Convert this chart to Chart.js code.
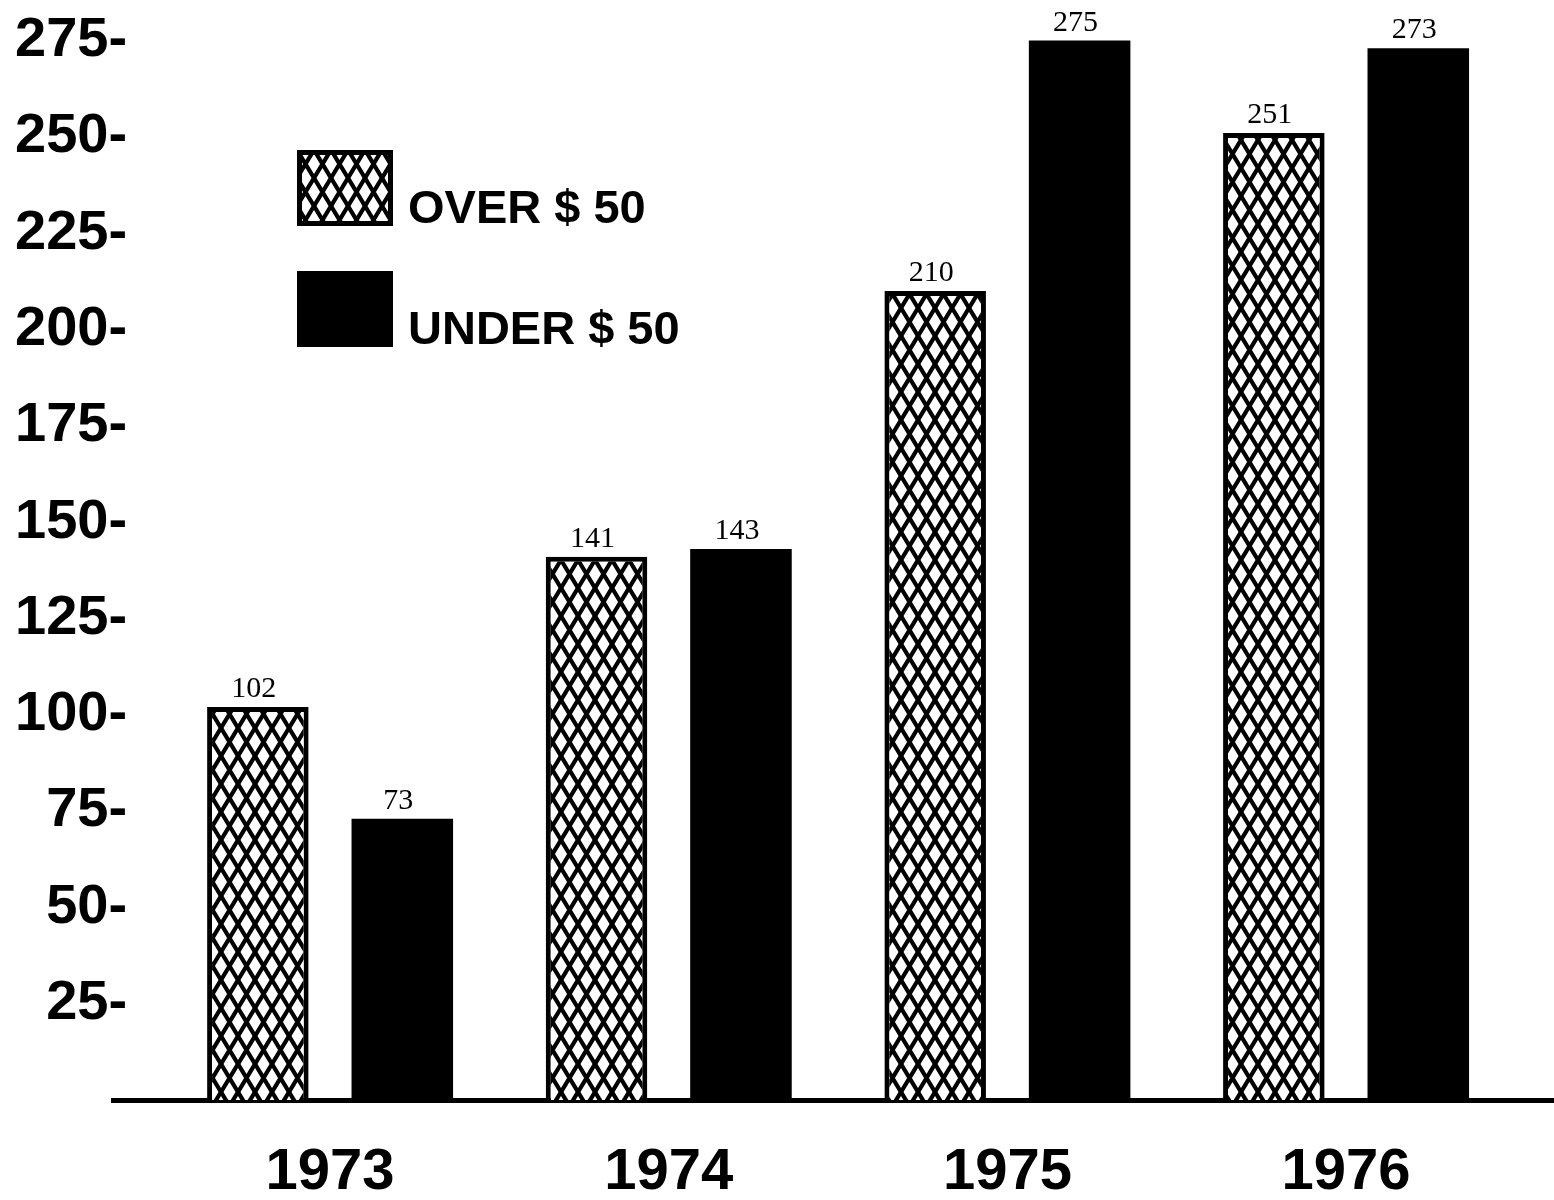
<!DOCTYPE html>
<html>
<head>
<meta charset="utf-8">
<script src="https://cdn.jsdelivr.net/npm/chart.js@4.4.1/dist/chart.umd.min.js"></script>
<style>
    body { margin: 0; background: #fff; }
    #wrap { position: relative; width: 1554px; height: 1200px; }
    #legend { position: absolute; left: 297px; top: 150px; }
    .item { display: flex; align-items: flex-end; margin-bottom: 45px; }
    .item canvas { display: block; }
    .item span { font: bold 47px "Liberation Sans", Arial, sans-serif; color: #000; margin-left: 15px; line-height: 1; margin-bottom: -4px; }
</style>
</head>
<body>
<div id="wrap">
    <canvas id="bars"></canvas>
    <div id="legend"></div>
</div>
<script>
const years = [1973, 1974, 1975, 1976];
const over50 = [102, 141, 210, 251];
const under50 = [73, 143, 275, 273];
const seriesNames = ["OVER $ 50", "UNDER $ 50"];
const yTicks = [25, 50, 75, 100, 125, 150, 175, 200, 225, 250, 275];

// crosshatch fill used for the "over" bars
function makeHatch() {
    const w = 17, h = 28;
    const c = document.createElement("canvas");
    c.width = w; c.height = h;
    const g = c.getContext("2d");
    g.fillStyle = "#fff";
    g.fillRect(0, 0, w, h);
    g.strokeStyle = "#000";
    g.lineWidth = 4.2;
    for (const dx of [-w, 0, w]) {
        for (const dy of [-h, 0, h]) {
            g.beginPath();
            g.moveTo(dx, dy); g.lineTo(dx + w, dy + h);
            g.moveTo(dx + w, dy); g.lineTo(dx, dy + h);
            g.stroke();
        }
    }
    return g.createPattern(c, "repeat");
}
const hatch = makeHatch();

const valueLabels = {
    id: "valueLabels",
    afterDatasetsDraw(chart) {
        const ctx = chart.ctx;
        ctx.save();
        ctx.font = '30px "Liberation Serif", serif';
        ctx.fillStyle = "#000";
        ctx.textAlign = "center";
        ctx.textBaseline = "alphabetic";
        chart.data.datasets.forEach((ds, i) => {
            chart.getDatasetMeta(i).data.forEach((bar, j) => {
                ctx.fillText(ds.data[j].y, bar.x - 4, bar.y - 10);
            });
        });
        ctx.restore();
    }
};

// legend built in html, placed over the plot
const htmlLegend = {
    id: "htmlLegend",
    afterUpdate(chart) {
        const box = document.getElementById("legend");
        box.innerHTML = "";
        chart.data.datasets.forEach(ds => {
            const item = document.createElement("div");
            item.className = "item";
            const sw = document.createElement("canvas");
            sw.width = 96; sw.height = 76;
            const g = sw.getContext("2d");
            g.fillStyle = ds.backgroundColor;
            g.fillRect(0, 0, 96, 76);
            if (ds.borderWidth) {
                g.strokeStyle = "#000";
                g.lineWidth = 5;
                g.strokeRect(2.5, 2.5, 91, 71);
            }
            const txt = document.createElement("span");
            txt.textContent = ds.label;
            item.appendChild(sw);
            item.appendChild(txt);
            box.appendChild(item);
        });
    }
};

new Chart(document.getElementById("bars"), {
    type: "bar",
    data: {
        datasets: [{
            label: seriesNames[0],
            data: years.map((y, i) => ({ x: y, y: over50[i] })),
            backgroundColor: hatch,
            borderColor: "#000",
            borderWidth: 5
        }, {
            label: seriesNames[1],
            data: years.map((y, i) => ({ x: y, y: under50[i] })),
            backgroundColor: "#000",
            borderWidth: 0
        }]
    },
    plugins: [valueLabels, htmlLegend],
    options: {
        responsive: true,
        maintainAspectRatio: false,
        animation: false,
        categoryPercentage: 0.853,
        barPercentage: 0.703,
        layout: { padding: { top: 2, right: 0, left: 0, bottom: 0 } },
        plugins: { legend: { display: false }, tooltip: { enabled: false } },
        scales: {
            x: {
                type: "linear",
                offset: false,
                min: 1972.359,
                max: 1976.614,
                afterBuildTicks: s => { s.ticks = years.map(v => ({ value: v })); },
                afterFit: s => { s.height = 100; },
                grid: { display: false, offset: false },
                border: { display: true, color: "#000", width: 5 },
                ticks: {
                    padding: 30,
                    color: "#000",
                    font: { family: '"Liberation Sans", Arial, sans-serif', size: 58, weight: "bold" },
                    callback: v => String(v)
                }
            },
            y: {
                min: 0,
                max: 285,
                afterBuildTicks: s => { s.ticks = yTicks.map(v => ({ value: v })); },
                afterFit: s => { s.width = 113; },
                grid: { display: false },
                border: { display: false },
                ticks: {
                    mirror: true,
                    padding: -98,
                    color: "#000",
                    font: { family: '"Liberation Sans", Arial, sans-serif', size: 56, weight: "bold" },
                    // figure space keeps the two-digit labels right-aligned
                    callback: v => (v < 100 ? "\u2007" : "") + v + "-"
                }
            }
        }
    }
});
</script>
</body>
</html>
